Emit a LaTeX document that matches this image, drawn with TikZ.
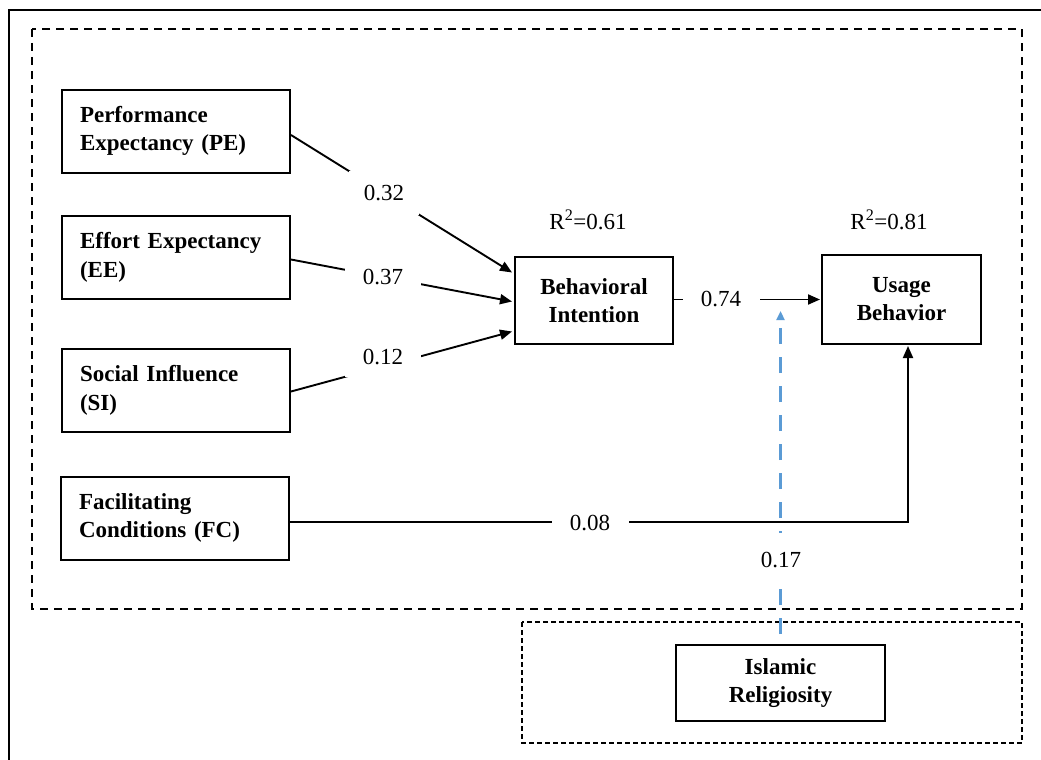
\documentclass[tikz,border=0pt]{standalone}
\usepackage{fontspec}
\setmainfont{Liberation Serif}
\usetikzlibrary{arrows.meta,calc}
\definecolor{dblue}{RGB}{91,155,213}
\begin{document}
\begin{tikzpicture}[x=1pt,y=-1pt,
  lbox/.style={draw, line width=2pt, minimum width=228pt, minimum height=83pt, text width=192pt, align=left, inner sep=0pt, font=\fontsize{23}{28.5}\selectfont\bfseries},
  cbox/.style={draw, line width=2pt, inner sep=0pt, align=center, font=\fontsize{23}{28}\selectfont\bfseries},
  val/.style={fill=white, inner sep=0pt, font=\fontsize{23}{28}\selectfont},
  rlab/.style={inner sep=0pt, font=\fontsize{23}{28}\selectfont},
  conn/.style={line width=1.9pt, -{Triangle[length=12pt,width=10pt]}},
  modconn/.style={line width=2.2pt, dblue, dash pattern=on 16pt off 13pt, dash phase=19pt, -{Triangle[length=9pt,width=8pt]}},
  bigframe/.style={line width=2pt, dash pattern=on 8pt off 6pt},
  smallframe/.style={line width=1.8pt, dash pattern=on 5pt off 3pt}
]
\useasboundingbox (0,0) rectangle (1041,760);
% outer frame (top and left)
\draw[line width=2pt] (9,760) -- (9,10) -- (1041,10);
% dashed groups
\draw[bigframe] (32,29) rectangle (1022,609);
\draw[smallframe] (522,622) rectangle (1022,743);
% boxes
\node[lbox] (PE) at (176,131) {Performance\\Expectancy (PE)};
\node[lbox] (EE) at (176,257.5) {Effort Expectancy\\(EE)};
\node[lbox] (SI) at (176,390.5) {Social Influence\\(SI)};
\node[lbox] (FC) at (175,518) {Facilitating\\Conditions (FC)};
\node[cbox, minimum width=158pt, minimum height=87pt] (BI) at (594,300.5) {Behavioral\\Intention};
\node[cbox, minimum width=159pt, minimum height=89pt] (UB) at (901.5,299.5) {Usage\\Behavior};
\node[cbox, minimum width=209pt, minimum height=76pt] (IR) at (780.5,683) {Islamic\\Religiosity};
% R squared
\node[rlab] (r61) at (588,220) {R\textsuperscript{2}=0.61};
\node[rlab] (r81) at (889,220) {R\textsuperscript{2}=0.81};
% connectors
\draw[conn] ($(PE.east)+(0,4)$) -- ($(BI.west)+(-2,-28)$);
\draw[conn] ($(EE.east)+(0,2)$) -- ($(BI.west)+(-2,1)$);
\draw[conn] ($(SI.east)+(0,1)$) -- ($(BI.west)+(-2,31)$);
\draw[conn] ($(BI.east)+(0,-1)$) -- ($(UB.west)+(-1,0)$);
\draw[conn] ($(FC.east)+(0,4)$) -| ($(UB.south)+(6.5,1)$);
\draw[modconn] (IR.north) -- ($(IR.north)+(0,-333)$);
% path coefficients
\node[val, minimum width=70pt, minimum height=44pt] (l32) at (384,193) {0.32};
\node[val, minimum width=76pt, minimum height=20pt] (l37) at (383,277) {0.37};
\node[val, minimum width=76pt, minimum height=40pt] (l12) at (383,357) {0.12};
\node[val, minimum width=77pt, minimum height=20pt] (l74) at (721,299) {0.74};
\node[val, minimum width=77pt, minimum height=20pt] (l08) at (590,523) {0.08};
\node[val, minimum width=44pt, minimum height=55pt] (l17) at (781,560) {0.17};
\end{tikzpicture}
\end{document}
